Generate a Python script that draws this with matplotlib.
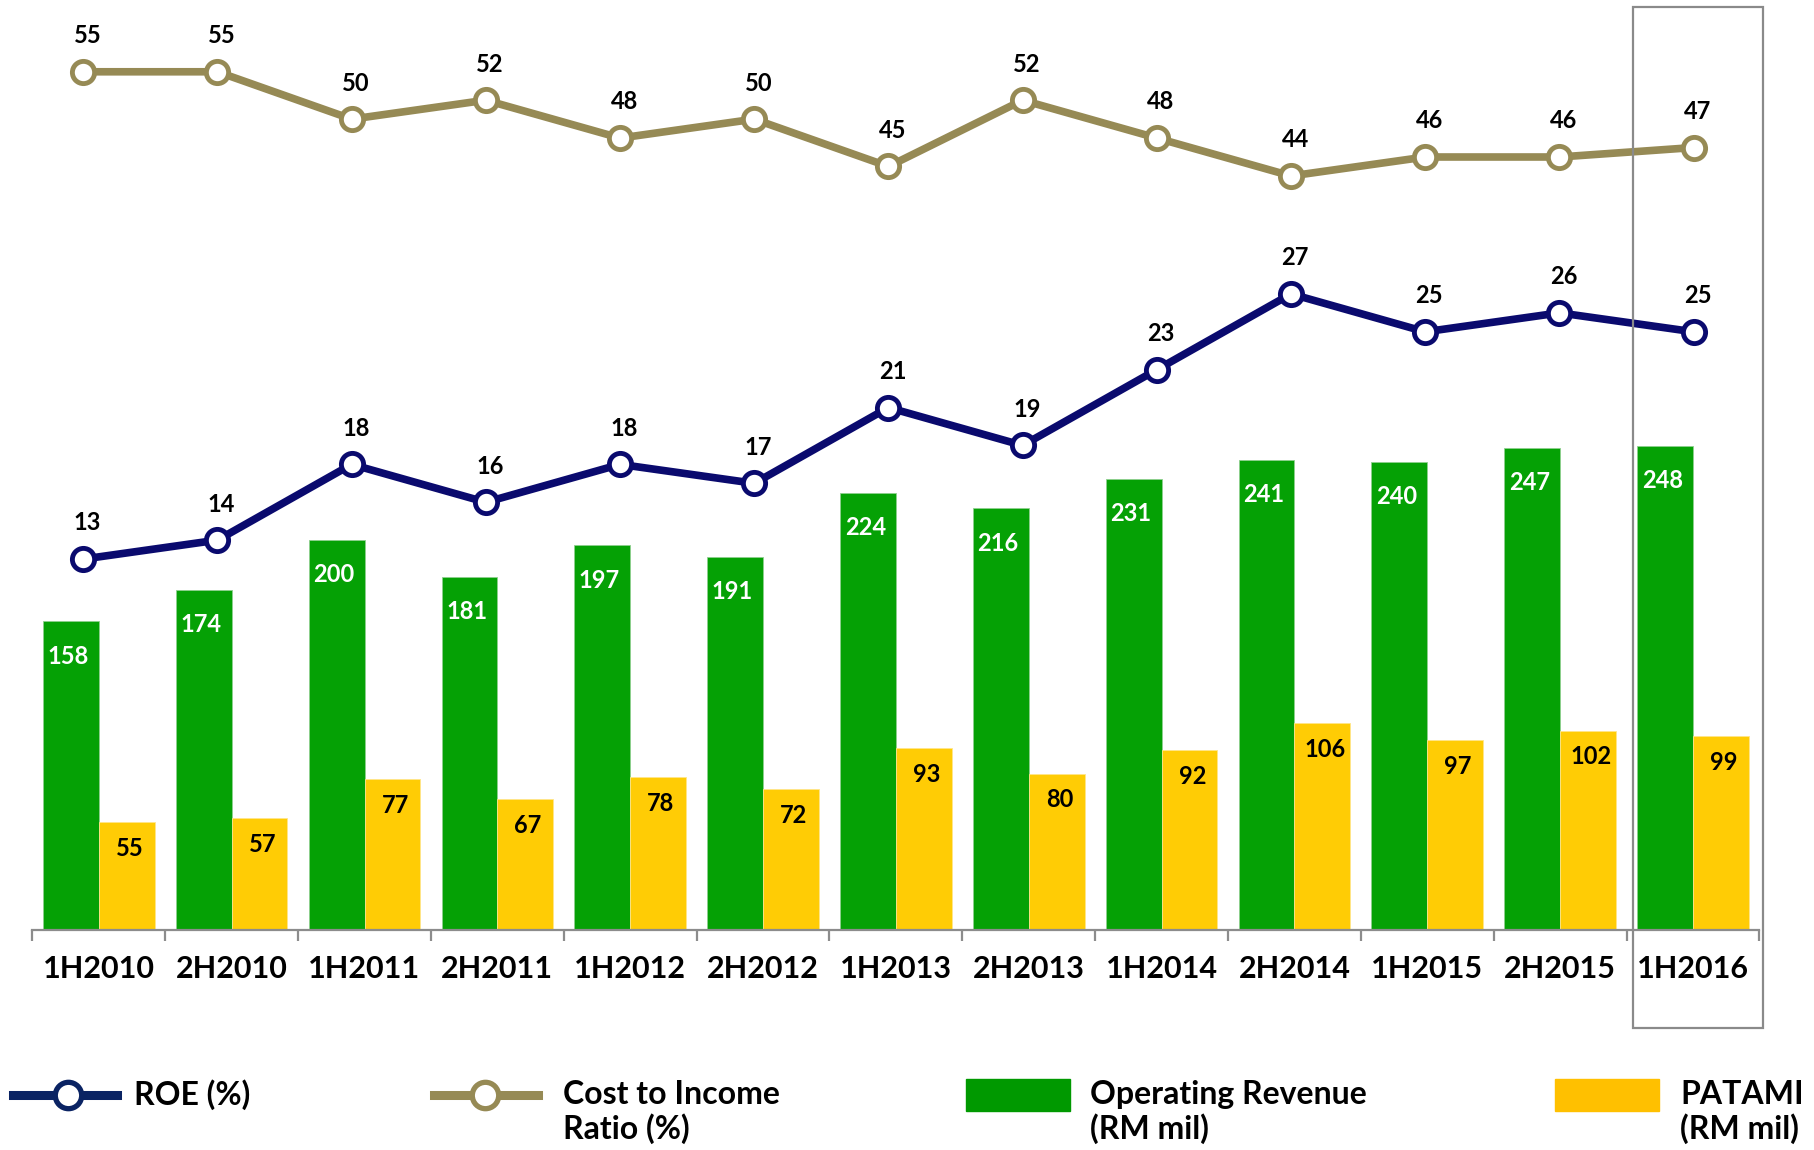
import matplotlib
matplotlib.use('Agg')
from matplotlib import pyplot as plt
from matplotlib.patches import Rectangle
from matplotlib.lines import Line2D

plt.rcParams['font.family'] = ['Lato', 'DejaVu Sans']
plt.rcParams['font.weight'] = 'bold'

# data
periods = ['1H2010', '2H2010', '1H2011', '2H2011', '1H2012', '2H2012', '1H2013',
           '2H2013', '1H2014', '2H2014', '1H2015', '2H2015', '1H2016']
revenue = [158, 174, 200, 181, 197, 191, 224, 216, 231, 241, 240, 247, 248]
patami = [55, 57, 77, 67, 78, 72, 93, 80, 92, 106, 97, 102, 99]
roe = [13, 14, 18, 16, 18, 17, 21, 19, 23, 27, 25, 26, 25]
cost_income = [55, 55, 50, 52, 48, 50, 45, 52, 48, 44, 46, 46, 47]

GREEN = '#05a105'
YELLOW = '#ffcc05'
NAVY = '#0a0a6e'
OLIVE = '#968a55'

W, H = 1815, 1150
fig = plt.figure(figsize=(W / 100, H / 100), dpi=100)

# axes box in pixels
x0, x1 = 32.4, 1759.4
ybase = 929.5
rect = [x0 / W, (H - ybase) / H, (x1 - x0) / W, ybase / H]

ax = fig.add_axes(rect)
idx = list(range(len(periods)))
bw = 0.42
ax.bar([i - bw / 2 for i in idx], revenue, bw, color=GREEN, edgecolor='#8fd08f', linewidth=0.6, zorder=2)
ax.bar([i + bw / 2 for i in idx], patami, bw, color=YELLOW, edgecolor='#ffe58a', linewidth=0.6, zorder=2)
ax.set_xlim(-0.5, len(periods) - 0.5)
ax.set_ylim(0, ybase / 1.95)

for i in idx:
    ax.annotate(str(revenue[i]), (i - bw / 2, revenue[i]), xytext=(-2, -25), textcoords='offset points',
                ha='center', va='center', color='white', fontsize=17, fontweight='bold')
    ax.annotate(str(patami[i]), (i + bw / 2, patami[i]), xytext=(2, -19), textcoords='offset points',
                ha='center', va='center', color='black', fontsize=17, fontweight='bold')

for s in ['top', 'right', 'left']:
    ax.spines[s].set_visible(False)
ax.spines['bottom'].set_color('#8c8c8c')
ax.spines['bottom'].set_linewidth(1.6)
ax.set_yticks([])
ax.set_xticks(idx)
ax.set_xticklabels(periods, fontsize=22, fontweight='bold')
ax.tick_params(axis='x', which='major', length=0, pad=18)
ax.set_xticks([i - 0.5 for i in range(len(periods) + 1)], minor=True)
ax.tick_params(axis='x', which='minor', length=8, width=1.6, color='#8c8c8c', direction='out')

# line axes (own scales)
def line_axes(ylim):
    a = fig.add_axes(rect)
    a.patch.set_visible(False)
    a.set_xlim(-0.379, 12.49)
    a.set_ylim(*ylim)
    a.axis('off')
    return a

ax_roe = line_axes((-6.56, 42.52))
ax_roe.plot(idx, roe, color=NAVY, lw=5.5, marker='o', ms=16, mfc='white', mec=NAVY, mew=3.5, zorder=3)
for i, v in enumerate(roe):
    ax_roe.annotate(str(v), (i, v), xytext=(3, 26), textcoords='offset points',
                    ha='center', va='center', fontsize=17, fontweight='bold')

ax_ci = line_axes((-35.58, 62.58))
ax_ci.plot(idx, cost_income, color=OLIVE, lw=5.5, marker='o', ms=16, mfc='white', mec=OLIVE, mew=3.5, zorder=3)
for i, v in enumerate(cost_income):
    ax_ci.annotate(str(v), (i, v), xytext=(3, 26), textcoords='offset points',
                   ha='center', va='center', fontsize=17, fontweight='bold')

# overlay in pixel coords: highlight box and legend
ov = fig.add_axes([0, 0, 1, 1])
ov.set_xlim(0, W)
ov.set_ylim(H, 0)
ov.axis('off')
ov.patch.set_visible(False)
ov.add_patch(Rectangle((1633, 7), 130, 1021, fill=False, edgecolor='#8a8a8a', lw=1.6))

ov.add_line(Line2D([13, 117], [1095, 1095], color='#0a2363', lw=6.5))
ov.plot([67.7], [1095], marker='o', ms=19, mfc='white', mec='#0a2363', mew=3.8)
ov.text(134, 1095, 'ROE (%)', fontsize=23, fontweight='bold', va='center', ha='left')

ov.add_line(Line2D([434, 538], [1095, 1095], color=OLIVE, lw=6.5))
ov.plot([485], [1095], marker='o', ms=19, mfc='white', mec=OLIVE, mew=3.8)
ov.text(563, 1080, 'Cost to Income\nRatio (%)', fontsize=23, fontweight='bold', va='top', ha='left',
        linespacing=1.15)

ov.add_patch(Rectangle((966, 1079), 104, 32, color='#009900'))
ov.text(1090, 1080, 'Operating Revenue\n(RM mil)', fontsize=23, fontweight='bold', va='top', ha='left',
        linespacing=1.15)

ov.add_patch(Rectangle((1555, 1079), 104, 32, color='#ffc000'))
ov.text(1680, 1080, 'PATAMI\n(RM mil)', fontsize=23, fontweight='bold', va='top', ha='left',
        linespacing=1.15)

fig.savefig('out.png', dpi=100)
